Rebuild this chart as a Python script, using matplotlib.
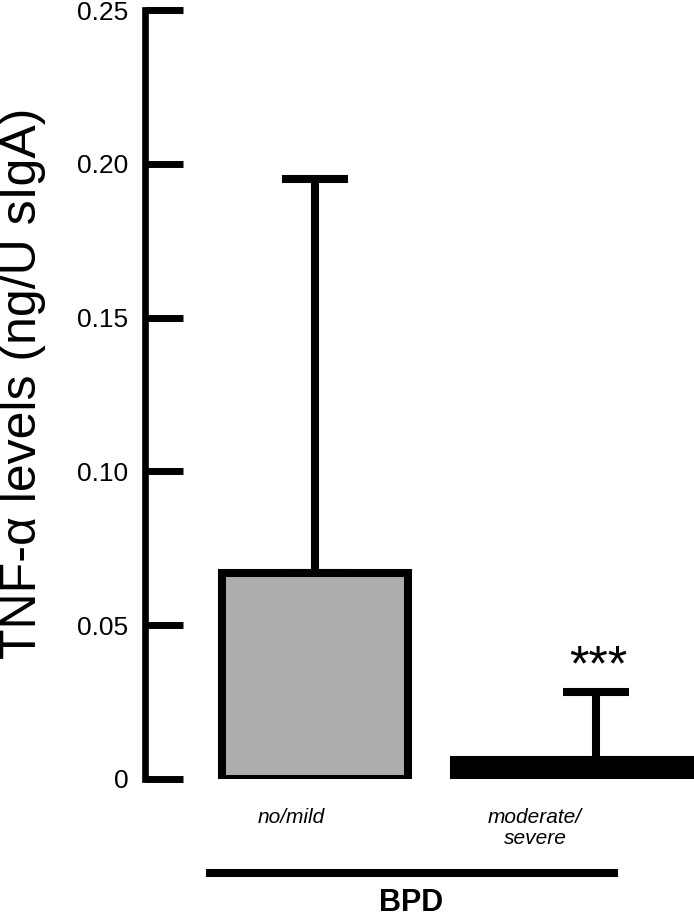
import numpy as np
import matplotlib
matplotlib.use("Agg")
import matplotlib.pyplot as plt
from matplotlib.lines import Line2D

plt.rcParams['font.family'] = ['Liberation Sans', 'DejaVu Sans']

# data
groups = ["no/mild", "moderate/\nsevere"]
means = [0.067, 0.0062]
err_upper = [0.128, 0.022]
bar_colors = ["#adadad", "black"]
bar_widths = [0.66, 1.01]
yticks = [0, 0.05, 0.10, 0.15, 0.20, 0.25]
ytick_labels = ["0", "0.05", "0.10", "0.15", "0.20", "0.25"]

W, H = 694, 918
fig = plt.figure(figsize=(W / 100, H / 100), dpi=100)
ax = fig.add_axes([145 / W, (H - 779) / H, 1 - 145 / W, (779 - 10) / H])

x = np.array([1, 2])
ax.bar(x, means, width=bar_widths, color=bar_colors, edgecolor="black",
       linewidth=5.8, zorder=2)
ax.errorbar(x, means, yerr=[np.zeros(2), err_upper], fmt="none", ecolor="black",
            elinewidth=5.8, capsize=24, capthick=5.8, zorder=1)

ax.set_xlim(0.395, 2.349)
ax.set_ylim(0, 0.25)

for s in ["top", "right", "bottom"]:
    ax.spines[s].set_visible(False)
ax.spines["left"].set_linewidth(4.8)
ax.spines["left"].set_capstyle("projecting")

ax.set_xticks([])
ax.set_yticks(yticks)
ax.set_yticklabels(ytick_labels)
ax.tick_params(axis="y", direction="in", length=27, width=5, pad=12, labelsize=19)

# category labels
ax.text(0.915, -0.0095, groups[0], style="italic", fontsize=15, ha="center", va="top")
ax.text(1.783, -0.0095, groups[1], style="italic", fontsize=15, ha="center", va="top",
        linespacing=1.15)

# significance marker
ax.text(2.01, 0.0322, "***", fontsize=36, ha="center", va="baseline")

# group bar + title below axis
fig.add_artist(Line2D([206 / W, 618 / W], [(H - 873) / H] * 2, color="black",
                      linewidth=5.8, solid_capstyle="butt"))
fig.text(411 / W, (H - 911) / H, "BPD", fontsize=22, fontweight="bold",
         ha="center", va="baseline")

fig.text(23 / W, (H - 383) / H, "TNF-\u03b1 levels (ng/U sIgA)", fontsize=36,
         rotation=90, ha="center", va="center")

fig.savefig("out.png", dpi=100)
